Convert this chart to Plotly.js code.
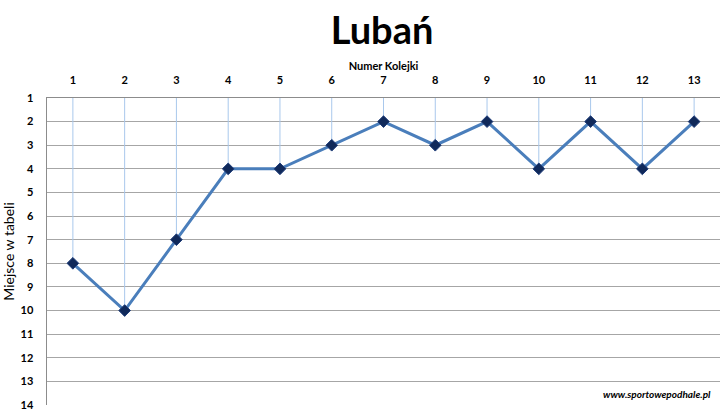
<!DOCTYPE html>
<html><head><meta charset="utf-8">
<script src="https://cdn.plot.ly/plotly-3.0.1.min.js"></script>
<style>html,body{margin:0;padding:0;background:#fff}#c{width:725px;height:414px}</style>
</head><body><div id="c"></div>
<script>
const rounds = [1,2,3,4,5,6,7,8,9,10,11,12,13];
const places = [8,10,7,4,4,3,2,3,2,4,2,4,2];
const yTicks = [1,2,3,4,5,6,7,8,9,10,11,12,13,14];
const topPlace = 1;

const dropMinus = places.map(p => p - topPlace);

const traces = [
  {x: rounds, y: places, mode: 'markers', type: 'scatter', hoverinfo: 'skip',
   marker: {size: 0.1, color: 'rgba(0,0,0,0)'},
   error_y: {type: 'data', symmetric: false, array: places.map(() => 0), arrayminus: dropMinus,
             color: '#a9c8ec', thickness: 1, width: 0}},
  {x: rounds, y: places, mode: 'lines+markers', type: 'scatter',
   line: {color: '#4a7ebb', width: 3},
   marker: {symbol: 'diamond', size: 9, color: '#10295a', line: {color: '#1f3d7a', width: 1}}}
];

const layout = {
  width: 725, height: 414,
  margin: {l: 47, r: 5, t: 98, b: 9},
  paper_bgcolor: '#fff', plot_bgcolor: '#fff',
  showlegend: false,
  font: {family: 'Lato, "Open Sans", sans-serif', color: '#000'},
  title: {text: '<b>Lubań</b>', x: 0.527, xanchor: 'center', y: 0.925, yanchor: 'middle',
          font: {size: 38, family: 'Lato, "Open Sans", sans-serif', color: '#000'}},
  xaxis: {side: 'top', range: [0.5, 13.5], tickvals: rounds, ticktext: rounds.map(String),
          showgrid: false, zeroline: false, showline: true, linecolor: '#8c8c8c', linewidth: 1.5,
          ticks: 'outside', ticklen: 8, tickcolor: 'rgba(0,0,0,0)',
          tickfont: {size: 11, family: 'Lato, sans-serif', color: '#000', weight: 'bold'},
          title: {text: '<b>Numer Kolejki</b>', standoff: 0, font: {size: 11, family: 'Lato, sans-serif', color: '#000'}}},
  yaxis: {range: [14, 1], tickvals: yTicks, ticktext: yTicks.map(String),
          showgrid: true, gridcolor: '#a6a6a6', gridwidth: 1, zeroline: false,
          showline: true, linecolor: '#8c8c8c', linewidth: 1.5,
          ticks: 'outside', ticklen: 10, tickcolor: 'rgba(0,0,0,0)',
          tickfont: {size: 11, family: 'Lato, sans-serif', color: '#000', weight: 'bold'},
          title: {text: 'Miejsce w tabeli', standoff: 4, font: {size: 14, family: 'Lato, sans-serif', color: '#000'}}},
  annotations: [{text: '<b><i>www.sportowepodhale.pl</i></b>', xref: 'paper', yref: 'paper',
                 x: 0.99, y: 0.035, xanchor: 'right', yanchor: 'middle', showarrow: false,
                 font: {size: 10, family: 'Lato, sans-serif', color: '#000'}}]
};

Plotly.newPlot('c', traces, layout, {displayModeBar: false, staticPlot: true});
</script></body></html>
